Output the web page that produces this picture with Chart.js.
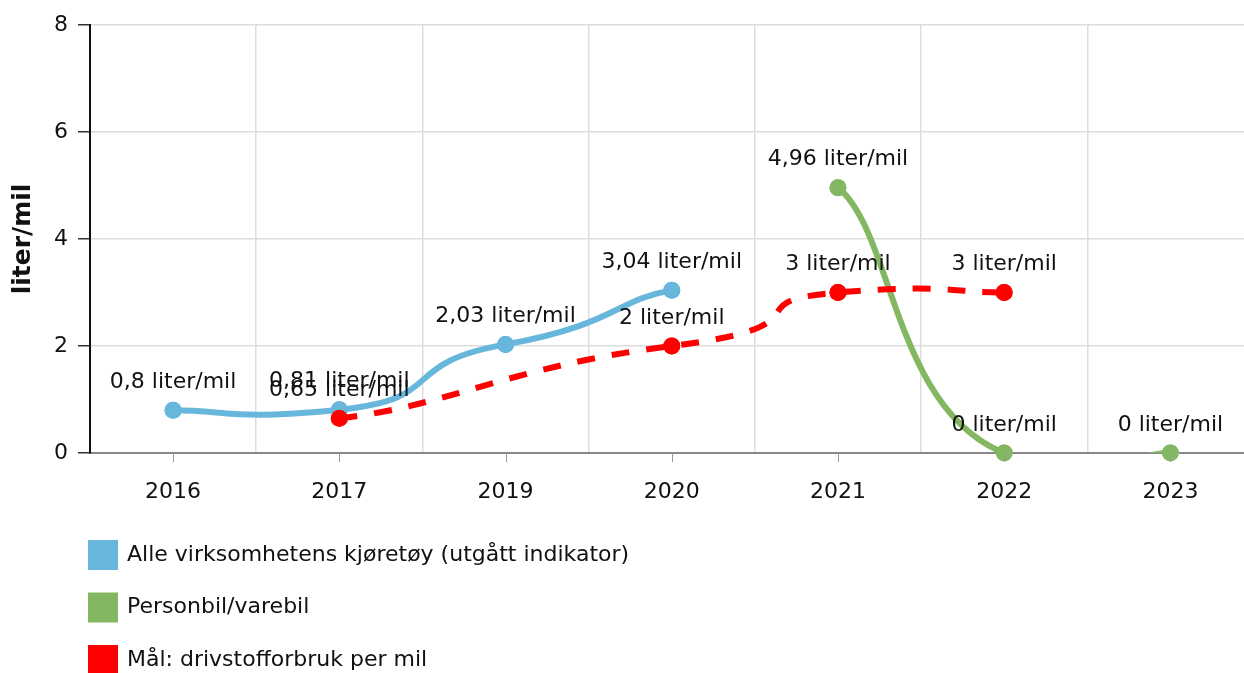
<!DOCTYPE html>
<html>
<head>
<meta charset="utf-8">
<script src="https://cdn.jsdelivr.net/npm/chart.js@4.4.0/dist/chart.umd.min.js"></script>
<style>
    html, body { margin: 0; padding: 0; background: #fff; overflow: hidden; }
    #wrap { width: 1262px; height: 673px; }
</style>
</head>
<body>
<div id="wrap"><canvas id="fuelChart" width="1262" height="673"></canvas></div>
<script>
// Data
const categories = ['2016', '2017', '2019', '2020', '2021', '2022', '2023'];
const allVehicles = [0.8, 0.81, 2.03, 3.04, null, null, null];
const carVan = [null, null, null, null, 4.96, 0, 0];
const fuelTarget = [null, 0.65, null, 2, 3, 3, null];
const yTicks = [0, 2, 4, 6, 8];

const seriesNames = [
    'Alle virksomhetens kjøretøy (utgått indikator)',
    'Personbil/varebil',
    'Mål: drivstofforbruk per mil'
];
const seriesColors = ['#67b7dc', '#84b761', '#ff0000'];

const FONT = '"DejaVu Sans", Verdana, sans-serif';

function fmt(v) {
    return String(v).replace('.', ',');
}

// Smoothed curve: flatter tangents (x spread /3, y spread /6)
const flatSpline = {
    id: 'flatSpline',
    beforeDatasetsDraw(chart) {
        chart.data.datasets.forEach((ds, i) => {
            const meta = chart.getDatasetMeta(i);
            const pts = meta.data.filter(p => !p.skip);
            pts.forEach((p, j) => {
                const prev = pts[j - 1] || p;
                const next = pts[j + 1] || p;
                const dx = (next.x - prev.x) / 3;
                const dy = (next.y - prev.y) / 6;
                p.cp1x = p.x - dx;
                p.cp1y = p.y - dy;
                p.cp2x = p.x + dx;
                p.cp2y = p.y + dy;
            });
            meta.dataset._pointsUpdated = true;
        });
    }
};

// Points redrawn unclipped, then value labels above each point
const pointLabels = {
    id: 'pointLabels',
    afterDatasetsDraw(chart) {
        const ctx = chart.ctx;
        [0, 1, 2].forEach(i => {
            chart.getDatasetMeta(i).data.forEach(pt => {
                if (!pt.skip) pt.draw(ctx);
            });
        });
        ctx.save();
        ctx.font = '22px ' + FONT;
        ctx.fillStyle = '#111';
        ctx.textAlign = 'center';
        ctx.textBaseline = 'middle';
        chart.data.datasets.forEach((ds, i) => {
            const meta = chart.getDatasetMeta(i);
            meta.data.forEach((pt, j) => {
                const v = ds.data[j];
                if (v === null || v === undefined) return;
                ctx.fillText(fmt(v) + ' liter/mil', pt.x, pt.y - 28);
            });
        });
        ctx.restore();
    }
};

// Small tick marks under the x axis at each category
const xTickMarks = {
    id: 'xTickMarks',
    afterDraw(chart) {
        const ctx = chart.ctx;
        const xs = chart.scales.x;
        ctx.save();
        ctx.strokeStyle = '#999';
        ctx.lineWidth = 1;
        categories.forEach((c, i) => {
            const x = Math.round(xs.getPixelForValue(i)) + 0.5;
            ctx.beginPath();
            ctx.moveTo(x, xs.top);
            ctx.lineTo(x, xs.top + 9);
            ctx.stroke();
        });
        ctx.restore();
    }
};

// Vertical legend in the bottom-left
const sideLegend = {
    id: 'sideLegend',
    afterDraw(chart) {
        const ctx = chart.ctx;
        ctx.save();
        ctx.font = '22px ' + FONT;
        ctx.textBaseline = 'middle';
        ctx.textAlign = 'left';
        seriesNames.forEach((name, i) => {
            const cy = 555 + i * 52.5;
            ctx.fillStyle = seriesColors[i];
            ctx.fillRect(88, cy - 15, 30, 30);
            ctx.fillStyle = '#111';
            ctx.fillText(name, 127, cy);
        });
        ctx.restore();
    }
};

const lineClip = { left: 20, top: 20, right: 20, bottom: 0 };

const ctx = document.getElementById('fuelChart').getContext('2d');
const fuelChart = new Chart(ctx, {
    type: 'line',
    data: {
        labels: categories,
        datasets: [
            {
                label: seriesNames[0],
                data: allVehicles,
                borderColor: seriesColors[0],
                backgroundColor: seriesColors[0],
                borderWidth: 6,
                pointRadius: 8.5,
                pointBorderWidth: 0,
                tension: 0.4,
                clip: lineClip,
                order: 2
            },
            {
                label: seriesNames[1],
                data: carVan,
                borderColor: seriesColors[1],
                backgroundColor: seriesColors[1],
                borderWidth: 6,
                pointRadius: 8.5,
                pointBorderWidth: 0,
                tension: 0.4,
                clip: lineClip,
                order: 1
            },
            {
                label: seriesNames[2],
                data: fuelTarget,
                borderColor: seriesColors[2],
                backgroundColor: seriesColors[2],
                borderWidth: 6,
                borderDash: [18, 17],
                pointRadius: 8.5,
                pointBorderWidth: 0,
                tension: 0.4,
                spanGaps: true,
                clip: lineClip,
                order: 0
            }
        ]
    },
    options: {
        responsive: false,
        animation: false,
        events: [],
        layout: { padding: { top: 25, right: 0, bottom: 160, left: 0 } },
        plugins: {
            legend: { display: false },
            tooltip: { enabled: false }
        },
        scales: {
            x: {
                offset: true,
                grid: { offset: true, color: '#dddddd', lineWidth: 1.5, drawTicks: false },
                border: { color: '#888', width: 2 },
                ticks: { color: '#111', font: { family: FONT, size: 22 }, padding: 26 },
                afterFit(scale) { scale.height = 60; }
            },
            y: {
                min: 0,
                max: 8,
                afterBuildTicks(scale) { scale.ticks = yTicks.map(v => ({ value: v })); },
                grid: { color: '#dddddd', lineWidth: 1.5, tickColor: '#333', tickLength: 12 },
                border: { color: '#111', width: 2 },
                ticks: { color: '#111', font: { family: FONT, size: 22 }, padding: 10 },
                title: {
                    display: true,
                    text: 'liter/mil',
                    color: '#111',
                    font: { family: FONT, size: 25, weight: 'bold' },
                    padding: { top: 8, bottom: 0 }
                },
                afterFit(scale) { scale.width = 90; }
            }
        }
    },
    plugins: [flatSpline, pointLabels, xTickMarks, sideLegend]
});
</script>
</body>
</html>
